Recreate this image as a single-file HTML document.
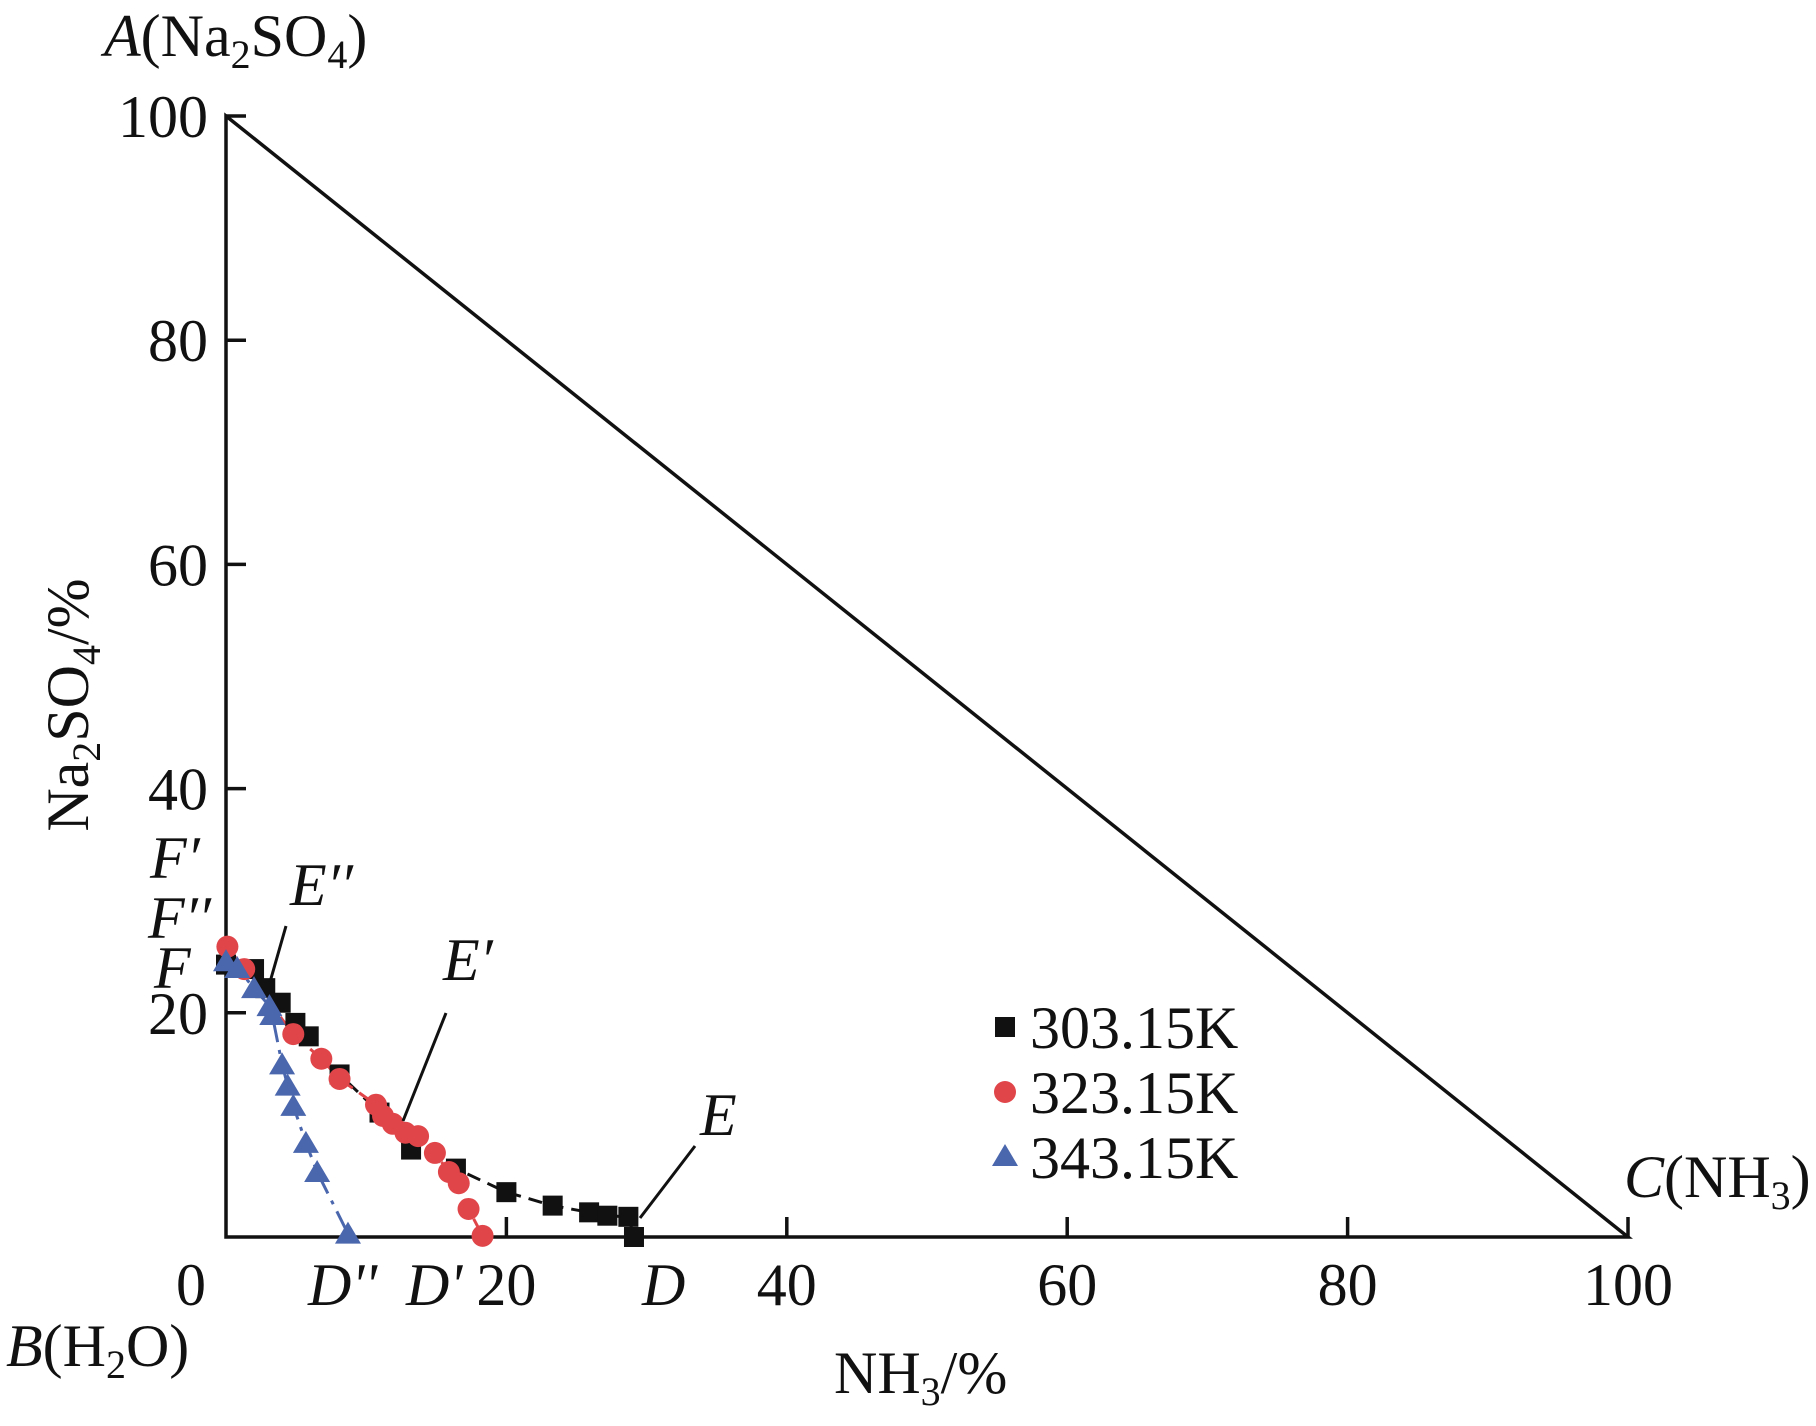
<!DOCTYPE html>
<html><head><meta charset="utf-8"><style>
html,body{margin:0;padding:0;background:#fff}
svg{display:block}
text{font-family:"Liberation Serif",serif;fill:#111}
</style></head><body>
<svg id="chart" width="1816" height="1426" viewBox="0 0 1816 1426" xmlns="http://www.w3.org/2000/svg">
<g id="axes"></g>
<g id="series"></g>
<g id="labels" font-size="60">
<text x="104" y="56"><tspan font-style="italic">A</tspan>(Na<tspan font-size="40" dy="12">2</tspan><tspan dy="-12">SO</tspan><tspan font-size="40" dy="12">4</tspan><tspan dy="-12">)</tspan></text>
<text x="6" y="1366"><tspan font-style="italic">B</tspan>(H<tspan font-size="40" dy="12">2</tspan><tspan dy="-12">O)</tspan></text>
<text x="1624" y="1197"><tspan font-style="italic">C</tspan>(NH<tspan font-size="40" dy="12">3</tspan><tspan dy="-12">)</tspan></text>
<text x="834" y="1393">NH<tspan font-size="40" dy="12">3</tspan><tspan dy="-12">/%</tspan></text>
<text transform="translate(88,705) rotate(-90)" text-anchor="middle">Na<tspan font-size="40" dy="12">2</tspan><tspan dy="-12">SO</tspan><tspan font-size="40" dy="12">4</tspan><tspan dy="-12">/%</tspan></text>
<g font-style="italic">
<text x="150" y="878">F′</text>
<text x="148" y="938">F′′</text>
<text x="154" y="988">F</text>
<text x="290" y="905">E′′</text>
<text x="443" y="980">E′</text>
<text x="700" y="1135">E</text>
<text x="308" y="1305">D''</text>
<text x="406" y="1305">D'</text>
<text x="642" y="1305">D</text>
</g>
<g stroke="#111" stroke-width="3">
<line x1="286" y1="926" x2="270" y2="982"/>
<line x1="446" y1="1013" x2="403" y2="1121"/>
<line x1="695" y1="1146" x2="640" y2="1218"/>
</g>
</g>
<g id="legend" font-size="60">
<rect x="995" y="1017" width="20" height="20" fill="#111"/>
<text x="1030" y="1048">303.15K</text>
<circle cx="1005" cy="1092" r="11" fill="#e0454a"/>
<text x="1030" y="1113">323.15K</text>
<polygon points="1005,1144 1018,1166 992,1166" fill="#4a66ad"/>
<text x="1030" y="1178">343.15K</text>
</g>
</svg>
<script>
const xTicks=[0,20,40,60,80,100];
const yTicks=[20,40,60,80,100];
const x303=[0,2.0,2.8,3.9,4.95,5.9,8.1,10.95,13.2,16.4,20.0,23.3,25.9,27.2,28.7,29.1];
const y303=[24.3,23.9,22.2,20.9,19.1,17.9,14.5,11.1,7.8,6.1,4.0,2.8,2.2,1.9,1.8,0.0];
const x323=[0.1,1.3,4.8,6.8,8.1,10.7,11.2,11.9,12.8,13.7,14.9,15.9,16.6,17.3,18.3];
const y323=[25.9,23.9,18.1,15.9,14.1,11.8,10.8,10.1,9.3,9.0,7.5,5.8,4.8,2.5,0.1];
const x343=[0,0.8,2.0,3.1,3.3,4.0,4.4,4.8,5.7,6.5,8.7];
const y343=[24.6,24.0,22.2,20.6,19.8,15.4,13.5,11.7,8.4,5.8,0.3];
const NS="http://www.w3.org/2000/svg";
const X0=226,XU=14.02,Y0=1237,YU=11.21;
function sx(v){return X0+v*XU;}
function sy(v){return Y0-v*YU;}
function mk(tag,attrs,parent){const e=document.createElementNS(NS,tag);for(const k in attrs)e.setAttribute(k,attrs[k]);parent.appendChild(e);return e;}
const axes=document.getElementById('axes');
let e=mk('path',{d:`M${sx(0)},${sy(100)} L${sx(0)},${sy(0)} L${sx(100)},${sy(0)} Z`,fill:'none',stroke:'#111','stroke-width':3.5},axes);


xTicks.forEach(t=>{
  if(t>0){const l=mk('line',{x1:sx(t),x2:sx(t),y1:sy(0),y2:sy(0)-20,stroke:'#111','stroke-width':3.5},axes);
  
  }
  const tx=mk('text',{x:sx(t)-(t===0?35:0),y:1305,'text-anchor':'middle','font-size':60},axes);
  tx.textContent=t;
  
  
});
yTicks.forEach(t=>{
  const l=mk('line',{x1:sx(0),x2:sx(0)+20,y1:sy(t),y2:sy(t),stroke:'#111','stroke-width':3.5},axes);
  
  
  const tx=mk('text',{x:208,y:sy(t)+21,'text-anchor':'end','font-size':60},axes);
  tx.textContent=t;
  
  
});
const ser=document.getElementById('series');
function line(xs,ys,color,dash,name){
  const p=mk('polyline',{points:xs.map((v,i)=>sx(v)+','+sy(ys[i])).join(' '),fill:'none',stroke:color,'stroke-width':3,'stroke-dasharray':dash},ser);
  
  
}
line(x303,y303,'#111','14,8','line-303');
line(x323,y323,'#e0454a','14,8','line-323');
line(x343,y343,'#4a66ad','20,8,4,8','line-343');
x303.forEach((v,i)=>{const r=mk('rect',{x:sx(v)-10,y:sy(y303[i])-10,width:20,height:20,fill:'#111'},ser);
  
  });
x323.forEach((v,i)=>{const c=mk('circle',{cx:sx(v),cy:sy(y323[i]),r:11,fill:'#e0454a'},ser);
  
  });
x343.forEach((v,i)=>{const X=sx(v),Y=sy(y343[i]);const t=mk('polygon',{points:`${X},${Y-12} ${X+13},${Y+10} ${X-13},${Y+10}`,fill:'#4a66ad'},ser);
  
  });
</script>
</body></html>
